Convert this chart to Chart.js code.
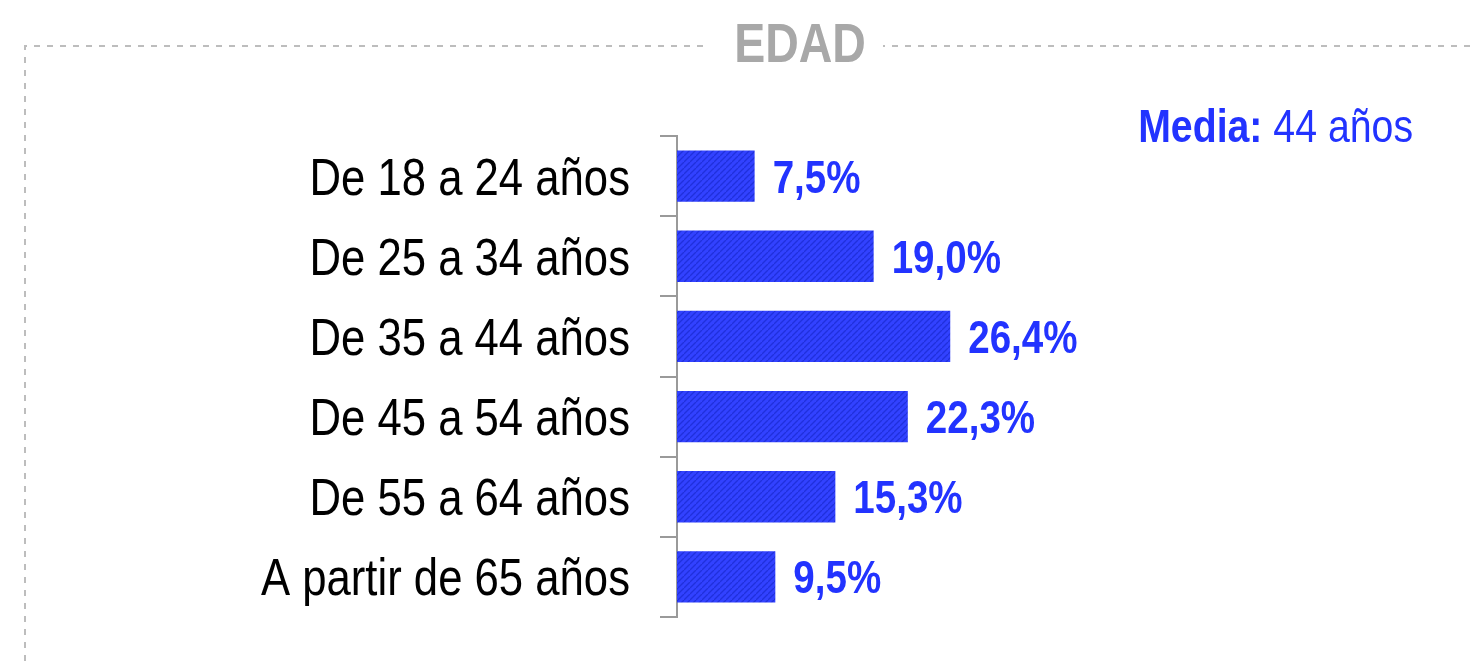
<!DOCTYPE html>
<html>
<head>
<meta charset="utf-8">
<script src="https://cdn.jsdelivr.net/npm/chart.js@4.4.1/dist/chart.umd.min.js"></script>
<style>
  html, body { margin: 0; padding: 0; background: #fff; }
  #wrap { width: 1473px; height: 665px; position: relative; }
</style>
</head>
<body>
<div id="wrap"><canvas id="graficoEdad"></canvas></div>
<script>
// Datos del gráfico
const categorias = ["De 18 a 24 años", "De 25 a 34 años", "De 35 a 44 años", "De 45 a 54 años", "De 55 a 64 años", "A partir de 65 años"];
const porcentajes = [7.5, 19.0, 26.4, 22.3, 15.3, 9.5];
const titulo = "EDAD";
const mediaEtiqueta = "Media:";
const mediaValor = "44 años";

const fuente = "'Liberation Sans', Arial, sans-serif";
const azul = "#2233ff";

// Texto comprimido horizontalmente (simula Arial Narrow)
function textoEstrecho(ctx, txt, x, y, align, escala) {
  const w = ctx.measureText(txt).width * escala;
  let x0 = x;
  if (align === "right") x0 = x - w;
  else if (align === "center") x0 = x - w / 2;
  ctx.save();
  ctx.translate(x0, y);
  ctx.scale(escala, 1);
  ctx.textAlign = "left";
  ctx.fillText(txt, 0, 0);
  ctx.restore();
  return w;
}

// Trama rayada de las barras
function crearTrama() {
  const c = document.createElement("canvas");
  const n = 6;
  c.width = n; c.height = n;
  const ctx = c.getContext("2d");
  ctx.fillStyle = "#3242ff";
  ctx.fillRect(0, 0, n, n);
  ctx.strokeStyle = "#2030dc";
  ctx.lineWidth = 1.3;
  ctx.beginPath();
  ctx.moveTo(0, n); ctx.lineTo(n, 0);
  ctx.moveTo(-n, n); ctx.lineTo(0, 0);
  ctx.moveTo(n, 2 * n); ctx.lineTo(2 * n, n);
  ctx.stroke();
  return ctx.createPattern(c, "repeat");
}

// Marco punteado, título, media y etiquetas
const marco = {
  id: "marco",
  beforeDraw(chart) {
    const ctx = chart.ctx;
    ctx.save();
    ctx.strokeStyle = "#bdbdbd";
    ctx.lineWidth = 2;
    ctx.setLineDash([6, 7]);
    ctx.beginPath();
    ctx.moveTo(25, 700);
    ctx.lineTo(25, 46);
    ctx.lineTo(1500, 46);
    ctx.stroke();
    ctx.setLineDash([]);
    ctx.fillStyle = "#fff";
    ctx.fillRect(707, 20, 176, 50);
    ctx.font = "bold 56px " + fuente;
    ctx.fillStyle = "#a8a8a8";
    ctx.textBaseline = "alphabetic";
    textoEstrecho(ctx, titulo, 800, 62, "center", 0.83);
    ctx.restore();
  },
  afterDraw(chart) {
    const ctx = chart.ctx;
    ctx.save();
    ctx.textBaseline = "alphabetic";
    ctx.fillStyle = azul;
    ctx.font = "47px " + fuente;
    const wv = textoEstrecho(ctx, " " + mediaValor, 1413, 142, "right", 0.835);
    ctx.font = "bold 47px " + fuente;
    textoEstrecho(ctx, mediaEtiqueta, 1413 - wv, 142, "right", 0.835);

    // Etiquetas de categoría
    const escalaY = chart.scales.y;
    ctx.fillStyle = "#000";
    ctx.font = "52px " + fuente;
    categorias.forEach((cat, i) => {
      textoEstrecho(ctx, cat, 630, escalaY.getPixelForValue(i) + 18.5, "right", 0.84);
    });

    // Etiquetas de valor
    const meta = chart.getDatasetMeta(0);
    ctx.fillStyle = azul;
    ctx.font = "bold 47px " + fuente;
    meta.data.forEach((bar, i) => {
      const txt = porcentajes[i].toFixed(1).replace(".", ",") + "%";
      textoEstrecho(ctx, txt, bar.x + 18, bar.y + 16.5, "left", 0.82);
    });
    ctx.restore();
  }
};

new Chart(document.getElementById("graficoEdad"), {
  type: "bar",
  data: {
    labels: categorias,
    datasets: [{
      data: porcentajes,
      backgroundColor: crearTrama(),
      borderWidth: 0,
      barPercentage: 0.64,
      categoryPercentage: 1.0
    }]
  },
  options: {
    indexAxis: "y",
    responsive: true,
    maintainAspectRatio: false,
    animation: false,
    layout: { padding: { left: 0, right: 382, top: 136, bottom: 48 } },
    plugins: {
      legend: { display: false },
      tooltip: { enabled: false }
    },
    scales: {
      x: {
        display: false,
        min: 0,
        max: 40
      },
      y: {
        afterFit(scale) { scale.width = 677; },
        border: { display: true, color: "#9a9a9a", width: 2 },
        grid: { display: true, drawOnChartArea: false, offset: true, tickLength: 17, color: "#9a9a9a", lineWidth: 2 },
        ticks: { display: false }
      }
    }
  },
  plugins: [marco]
});
</script>
</body>
</html>
